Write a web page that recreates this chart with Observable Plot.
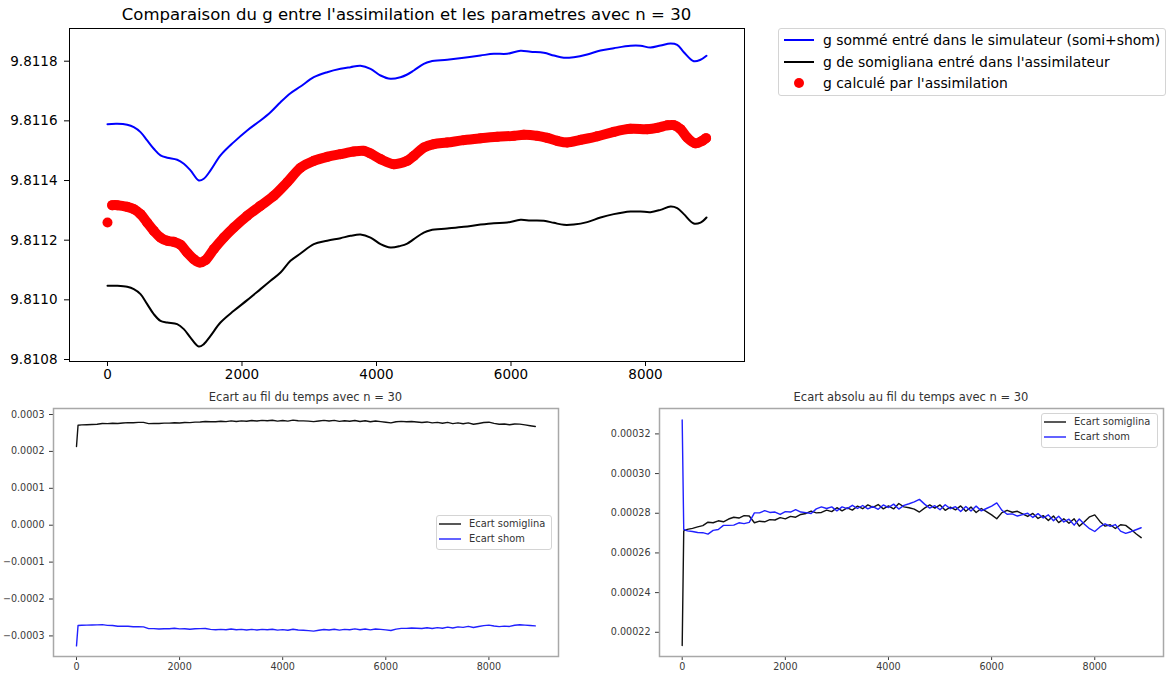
<!DOCTYPE html>
<html><head><meta charset="utf-8">
<script src="https://cdn.jsdelivr.net/npm/d3@7"></script>
<script src="https://cdn.jsdelivr.net/npm/@observablehq/plot@0.6"></script>
<style>
body{margin:0;background:#fff;font-family:"DejaVu Sans",sans-serif;}
#root{position:relative;width:1168px;height:677px;overflow:hidden;background:#fff;}
.ttl{position:absolute;text-align:center;white-space:nowrap;}
.leg{position:absolute;box-sizing:border-box;background:#fff;border:1px solid #d4d4d4;border-radius:3px;}
.row{position:absolute;left:0;white-space:nowrap;}
.row svg{position:absolute;left:0;top:0;}
.row span{position:absolute;top:0;}
</style></head><body><div id="root"></div><script>
// ---------- Top panel data (g in m/s², time in s) ----------
const tModel = [0,144,293,391,491,590,688,788,888,1036,1135,1234,1358,1432,1532,1680,1878,2077,2275,2424,2573,2721,2870,3068,3267,3465,3613,3762,3911,4060,4208,4357,4457,4555,4703,4803,5051,5298,5547,5745,5944,6141,6290,6488,6637,6785,6934,7133,7331,7529,7777,7926,8074,8223,8372,8471,8570,8718,8818,8907];
const gSomme = [9.8115890,9.8115903,9.8115869,9.8115789,9.8115622,9.8115343,9.8115065,9.8114841,9.8114764,9.8114697,9.8114563,9.8114338,9.8114003,9.8114060,9.8114338,9.8114841,9.8115287,9.8115678,9.8116013,9.8116292,9.8116627,9.8116928,9.8117152,9.8117464,9.8117632,9.8117745,9.8117799,9.8117846,9.8117745,9.8117521,9.8117410,9.8117464,9.8117554,9.8117688,9.8117913,9.8117990,9.8118047,9.8118114,9.8118191,9.8118248,9.8118248,9.8118348,9.8118315,9.8118281,9.8118191,9.8118114,9.8118134,9.8118224,9.8118358,9.8118436,9.8118516,9.8118516,9.8118459,9.8118526,9.8118593,9.8118549,9.8118302,9.8118000,9.8118047,9.8118181];
const gSomigliana = [9.8110469,9.8110469,9.8110436,9.8110359,9.8110191,9.8109856,9.8109521,9.8109296,9.8109239,9.8109185,9.8109018,9.8108736,9.8108435,9.8108515,9.8108793,9.8109239,9.8109631,9.8109990,9.8110359,9.8110637,9.8110915,9.8111307,9.8111552,9.8111867,9.8111978,9.8112068,9.8112145,9.8112189,9.8112088,9.8111867,9.8111753,9.8111810,9.8111887,9.8112035,9.8112256,9.8112336,9.8112390,9.8112447,9.8112524,9.8112571,9.8112591,9.8112682,9.8112658,9.8112648,9.8112581,9.8112514,9.8112524,9.8112605,9.8112759,9.8112873,9.8112960,9.8112960,9.8112940,9.8113017,9.8113127,9.8113074,9.8112873,9.8112558,9.8112591,9.8112759];
const tCalcFirst = 0;
const gCalcFirst = 9.8112591;
const tCalc = [70,144,293,391,491,590,688,788,888,986,1086,1185,1283,1373,1457,1581,1729,1878,2077,2275,2473,2672,2870,3068,3267,3465,3663,3812,3911,4060,4257,4457,4555,4703,4852,5051,5298,5547,5795,6042,6190,6390,6538,6687,6836,7034,7282,7529,7777,8025,8174,8323,8421,8521,8620,8744,8843,8900];
const gCalc = [9.8113174,9.8113174,9.8113117,9.8113040,9.8112873,9.8112591,9.8112313,9.8112088,9.8111978,9.8111944,9.8111844,9.8111585,9.8111364,9.8111250,9.8111331,9.8111699,9.8112088,9.8112424,9.8112816,9.8113151,9.8113486,9.8113939,9.8114425,9.8114659,9.8114793,9.8114884,9.8114971,9.8114994,9.8114904,9.8114716,9.8114549,9.8114659,9.8114827,9.8115105,9.8115219,9.8115273,9.8115353,9.8115413,9.8115464,9.8115497,9.8115531,9.8115497,9.8115430,9.8115330,9.8115273,9.8115363,9.8115481,9.8115631,9.8115732,9.8115722,9.8115765,9.8115849,9.8115856,9.8115722,9.8115440,9.8115246,9.8115330,9.8115420];

// ---------- Bottom panels data ----------
const tEcart = [0,30,100,200,300,400,500,600,700,800,900,1000,1100,1200,1300,1400,1500,1600,1700,1800,1900,2000,2100,2200,2300,2400,2500,2600,2700,2800,2900,3000,3100,3200,3300,3400,3500,3600,3700,3800,3900,4000,4100,4200,4300,4400,4500,4600,4700,4800,4900,5000,5100,5200,5300,5400,5500,5600,5700,5800,5900,6000,6100,6200,6300,6400,6500,6600,6700,6800,6900,7000,7100,7200,7300,7400,7500,7600,7700,7800,7900,8000,8100,8200,8300,8400,8500,8600,8700,8800,8900];
const ecartSomigliana = [2.133e-4,2.711e-4,2.719e-4,2.724e-4,2.731e-4,2.738e-4,2.755e-4,2.752e-4,2.762e-4,2.757e-4,2.771e-4,2.780e-4,2.776e-4,2.788e-4,2.786e-4,2.752e-4,2.760e-4,2.757e-4,2.768e-4,2.766e-4,2.778e-4,2.772e-4,2.784e-4,2.780e-4,2.794e-4,2.799e-4,2.811e-4,2.802e-4,2.804e-4,2.816e-4,2.808e-4,2.828e-4,2.812e-4,2.827e-4,2.816e-4,2.836e-4,2.823e-4,2.842e-4,2.830e-4,2.844e-4,2.822e-4,2.837e-4,2.822e-4,2.849e-4,2.832e-4,2.828e-4,2.821e-4,2.806e-4,2.826e-4,2.842e-4,2.826e-4,2.842e-4,2.815e-4,2.831e-4,2.817e-4,2.837e-4,2.810e-4,2.831e-4,2.804e-4,2.824e-4,2.808e-4,2.792e-4,2.772e-4,2.803e-4,2.815e-4,2.805e-4,2.810e-4,2.797e-4,2.784e-4,2.799e-4,2.774e-4,2.788e-4,2.764e-4,2.786e-4,2.753e-4,2.772e-4,2.750e-4,2.772e-4,2.735e-4,2.757e-4,2.782e-4,2.792e-4,2.759e-4,2.735e-4,2.742e-4,2.723e-4,2.742e-4,2.739e-4,2.719e-4,2.697e-4,2.677e-4];
const ecartShom = [-3.270e-4,-2.719e-4,-2.711e-4,-2.708e-4,-2.703e-4,-2.702e-4,-2.695e-4,-2.714e-4,-2.718e-4,-2.739e-4,-2.739e-4,-2.740e-4,-2.752e-4,-2.748e-4,-2.754e-4,-2.802e-4,-2.802e-4,-2.813e-4,-2.804e-4,-2.806e-4,-2.794e-4,-2.808e-4,-2.806e-4,-2.818e-4,-2.806e-4,-2.803e-4,-2.799e-4,-2.822e-4,-2.832e-4,-2.824e-4,-2.832e-4,-2.812e-4,-2.832e-4,-2.823e-4,-2.840e-4,-2.824e-4,-2.839e-4,-2.822e-4,-2.834e-4,-2.820e-4,-2.842e-4,-2.829e-4,-2.846e-4,-2.821e-4,-2.840e-4,-2.848e-4,-2.857e-4,-2.870e-4,-2.846e-4,-2.826e-4,-2.838e-4,-2.818e-4,-2.843e-4,-2.823e-4,-2.833e-4,-2.809e-4,-2.834e-4,-2.811e-4,-2.836e-4,-2.812e-4,-2.824e-4,-2.836e-4,-2.852e-4,-2.815e-4,-2.795e-4,-2.797e-4,-2.786e-4,-2.793e-4,-2.800e-4,-2.779e-4,-2.798e-4,-2.776e-4,-2.792e-4,-2.762e-4,-2.785e-4,-2.756e-4,-2.770e-4,-2.740e-4,-2.771e-4,-2.745e-4,-2.722e-4,-2.708e-4,-2.731e-4,-2.747e-4,-2.734e-4,-2.743e-4,-2.710e-4,-2.699e-4,-2.707e-4,-2.717e-4,-2.727e-4];

// ---------- Tick values & labels ----------
const timeTicks = [0,2000,4000,6000,8000];
const gTicks = [9.8108,9.8110,9.8112,9.8114,9.8116,9.8118];
const ecartTicks = [-0.0003,-0.0002,-0.0001,0,0.0001,0.0002,0.0003];
const ecartAbsTicks = [0.00022,0.00024,0.00026,0.00028,0.00030,0.00032];

const titleTop = "Comparaison du g entre l'assimilation et les parametres avec n = 30";
const titleEcart = "Ecart au fil du temps avec n = 30";
const titleEcartAbs = "Ecart absolu au fil du temps avec n = 30";
const legendTop = ["g sommé entré dans le simulateur (somi+shom)", "g de somigliana entré dans l'assimilateur", "g calculé par l'assimilation"];
const legendEcart = ["Ecart somiglina", "Ecart shom"];

// ---------- Build rows ----------
const sommeRows = tModel.map((t, i) => ({t, g: gSomme[i]}));
const somiRows = tModel.map((t, i) => ({t, g: gSomigliana[i]}));
const calcRows = tCalc.map((t, i) => ({t, g: gCalc[i]}));
const calcAll = [{t: tCalcFirst, g: gCalcFirst}, ...calcRows];
const ecSomiRows = tEcart.map((t, i) => ({t, v: ecartSomigliana[i]}));
const ecShomRows = tEcart.map((t, i) => ({t, v: ecartShom[i]}));
const absSomiRows = tEcart.map((t, i) => ({t, v: Math.abs(ecartSomigliana[i])}));
const absShomRows = tEcart.map((t, i) => ({t, v: Math.abs(ecartShom[i])}));

const root = document.getElementById("root");
function place(el, left, top) {
  el.style.position = "absolute"; el.style.left = left + "px"; el.style.top = top + "px";
  root.appendChild(el);
}

// ---------- Top chart ----------
const topChart = Plot.plot({
  width: 760, height: 385,
  marginLeft: 69, marginRight: 16, marginTop: 28, marginBottom: 24,
  style: {fontFamily: "DejaVu Sans", fontSize: "13.5px", color: "#000", background: "transparent", overflow: "visible"},
  x: {domain: [-565, 9472], ticks: timeTicks, tickFormat: "d", tickSize: 5, tickPadding: 3, label: null},
  y: {domain: [9.8107933, 9.8119096], ticks: gTicks, tickFormat: ".4f", tickSize: 5, tickPadding: 7, label: null},
  marks: [
    Plot.line(sommeRows, {x: "t", y: "g", stroke: "#0000ff", strokeWidth: 2, curve: "catmull-rom"}),
    Plot.line(somiRows, {x: "t", y: "g", stroke: "#000", strokeWidth: 2, curve: "catmull-rom"}),
    Plot.line(calcRows, {x: "t", y: "g", stroke: "#ff0000", strokeWidth: 10, curve: "catmull-rom"}),
    Plot.dot(calcAll, {x: "t", y: "g", r: 5, fill: "#ff0000", stroke: "none"}),
    Plot.frame({stroke: "#000", strokeWidth: 1})
  ]
});
place(topChart, 0, 0);

// ---------- Bottom-left chart ----------
const blChart = Plot.plot({
  width: 570, height: 292,
  marginLeft: 53, marginRight: 12, marginTop: 23, marginBottom: 21,
  style: {fontFamily: "DejaVu Sans", fontSize: "9.6px", color: "#3a3a3a", background: "transparent", overflow: "visible"},
  x: {domain: [-446, 9350], ticks: timeTicks, tickFormat: "d", tickSize: 4, tickPadding: 3, label: null},
  y: {domain: [-0.0003558, 0.0003163], ticks: ecartTicks, tickFormat: ".4f", tickSize: 4, tickPadding: 5, label: null},
  marks: [
    Plot.line(ecSomiRows, {x: "t", y: "v", stroke: "#111", strokeWidth: 1.4}),
    Plot.line(ecShomRows, {x: "t", y: "v", stroke: "#2020ff", strokeWidth: 1.4}),
    Plot.frame({stroke: "#a8a8a8", strokeWidth: 1.5})
  ]
});
place(blChart, 0, 385);

// ---------- Bottom-right chart ----------
const brChart = Plot.plot({
  width: 568, height: 292,
  marginLeft: 59, marginRight: 5, marginTop: 23, marginBottom: 21,
  style: {fontFamily: "DejaVu Sans", fontSize: "9.6px", color: "#3a3a3a", background: "transparent", overflow: "visible"},
  x: {domain: [-440, 9333], ticks: timeTicks, tickFormat: "d", tickSize: 4, tickPadding: 3, label: null},
  y: {domain: [0.0002078, 0.0003328], ticks: ecartAbsTicks, tickFormat: ".5f", tickSize: 4, tickPadding: 5, label: null},
  marks: [
    Plot.line(absSomiRows, {x: "t", y: "v", stroke: "#111", strokeWidth: 1.4}),
    Plot.line(absShomRows, {x: "t", y: "v", stroke: "#2020ff", strokeWidth: 1.4}),
    Plot.frame({stroke: "#a8a8a8", strokeWidth: 1.5})
  ]
});
place(brChart, 600, 385);

// ---------- Titles ----------
function title(text, left, width, top, size, color, lh) {
  const d = document.createElement("div");
  d.className = "ttl"; d.textContent = text;
  d.style.width = width + "px"; d.style.fontSize = size + "px"; d.style.color = color;
  d.style.lineHeight = lh + "px";
  place(d, left, top);
}
title(titleTop, 69, 675, 5, 16.5, "#000", 20);
title(titleEcart, 53, 505, 390, 11.5, "#333", 14);
title(titleEcartAbs, 659, 504, 390, 11.5, "#333", 14);

// ---------- Legends ----------
function legend(left, top, width, height, items, fontSize, swX0, swX1, textX) {
  const box = document.createElement("div");
  box.className = "leg";
  box.style.width = width + "px"; box.style.height = height + "px";
  items.forEach(it => {
    const row = document.createElement("div");
    row.className = "row";
    const h = 18;
    row.style.top = (it.cy - h / 2) + "px"; row.style.height = h + "px"; row.style.width = width + "px";
    const ns = "http://www.w3.org/2000/svg";
    const svg = document.createElementNS(ns, "svg");
    svg.setAttribute("width", swX1 + 6); svg.setAttribute("height", h);
    if (it.kind === "line") {
      const ln = document.createElementNS(ns, "line");
      ln.setAttribute("x1", swX0); ln.setAttribute("x2", swX1);
      ln.setAttribute("y1", h / 2); ln.setAttribute("y2", h / 2);
      ln.setAttribute("stroke", it.color); ln.setAttribute("stroke-width", it.w);
      svg.appendChild(ln);
    } else {
      const c = document.createElementNS(ns, "circle");
      c.setAttribute("cx", (swX0 + swX1) / 2); c.setAttribute("cy", h / 2); c.setAttribute("r", 5);
      c.setAttribute("fill", it.color);
      svg.appendChild(c);
    }
    row.appendChild(svg);
    const sp = document.createElement("span");
    sp.textContent = it.label; sp.style.left = textX + "px";
    sp.style.fontSize = fontSize + "px"; sp.style.lineHeight = h + "px"; sp.style.color = it.tc;
    row.appendChild(sp);
    box.appendChild(row);
  });
  place(box, left, top);
}
legend(778, 28, 388, 68, [
  {kind: "line", color: "#0000ff", w: 2, label: legendTop[0], cy: 11, tc: "#000"},
  {kind: "line", color: "#000", w: 2, label: legendTop[1], cy: 32.7, tc: "#000"},
  {kind: "dot", color: "#ff0000", label: legendTop[2], cy: 54.3, tc: "#000"}
], 13.9, 5, 35, 44);
legend(436, 515, 116, 35, [
  {kind: "line", color: "#111", w: 1.4, label: legendEcart[0], cy: 7.8, tc: "#333"},
  {kind: "line", color: "#2020ff", w: 1.4, label: legendEcart[1], cy: 23.2, tc: "#333"}
], 9.9, 2, 24, 32);
legend(1041, 413, 117, 35, [
  {kind: "line", color: "#111", w: 1.4, label: legendEcart[0], cy: 8.2, tc: "#333"},
  {kind: "line", color: "#2020ff", w: 1.4, label: legendEcart[1], cy: 23.2, tc: "#333"}
], 9.9, 2, 24, 32);
</script></body></html>
